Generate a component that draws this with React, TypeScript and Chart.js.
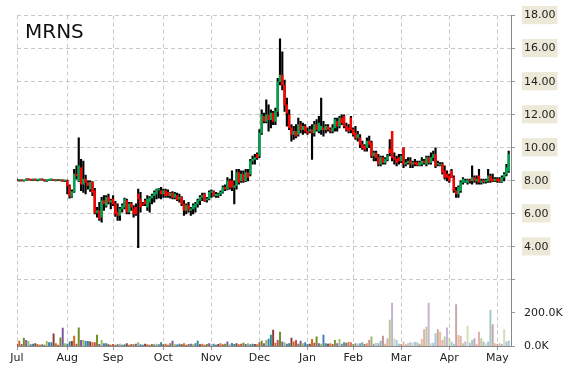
import React, { useEffect, useRef } from "react";
import { Chart, registerables } from "chart.js";

Chart.register(...registerables);

const tickerTitle = "MRNS";
const monthLabels = ["Jul", "Aug", "Sep", "Oct", "Nov", "Dec", "Jan", "Feb", "Mar", "Apr", "May"];
const monthTickIndex = [0, 22, 42, 64, 85, 106, 127, 147, 168, 189, 210];

const opens = [
  8.05, 8.02, 8.04, 8.00, 8.03, 8.10, 8.06, 8.05, 8.08, 8.04,
  8.06, 8.08, 8.05, 8.00, 8.04, 8.06, 8.07, 8.03, 8.05, 8.02,
  8.04, 7.98, 8.02, 7.70, 7.05, 7.35, 8.40, 8.00, 8.80, 7.80,
  8.10, 7.90, 7.50, 7.90, 7.40, 6.05, 6.20, 5.80, 6.80, 6.50,
  7.00, 6.70, 6.90, 6.60, 6.10, 5.90, 6.30, 6.40, 6.80, 6.10,
  6.60, 6.30, 6.40, 7.20, 6.90, 6.60, 6.80, 6.40, 6.70, 6.95,
  7.10, 7.20, 7.45, 7.40, 7.20, 7.40, 7.30, 7.10, 7.25, 7.00,
  7.10, 6.90, 7.00, 6.60, 6.20, 6.50, 6.20, 6.30, 6.40, 6.60,
  6.80, 7.00, 7.20, 6.85, 6.90, 7.30, 7.35, 7.10, 7.10, 7.20,
  7.30, 7.60, 7.50, 8.00, 8.00, 7.60, 7.70, 8.50, 8.00, 8.40,
  8.00, 8.50, 8.40, 9.20, 9.30, 9.60, 9.50, 10.90, 11.90, 11.60,
  12.00, 11.70, 12.10, 11.60, 12.20, 14.00, 14.40, 13.80, 12.60, 12.00,
  11.20, 10.80, 11.00, 10.80, 11.40, 11.10, 11.30, 11.00, 11.00, 11.10,
  10.90, 11.40, 11.00, 11.10, 11.20, 11.10, 11.30, 11.10, 11.00, 11.20,
  11.60, 11.30, 11.80, 11.90, 11.30, 11.20, 11.80, 11.10, 10.90, 10.60,
  10.60, 10.20, 10.10, 10.00, 10.40, 10.30, 9.50, 9.70, 9.40, 9.00,
  9.40, 9.10, 9.30, 9.90, 11.00, 9.40, 9.30, 9.40, 9.20, 10.00,
  9.00, 9.10, 9.20, 9.00, 9.10, 9.10, 8.95, 9.00, 9.20, 9.00,
  9.40, 9.10, 9.40, 9.60, 9.00, 9.00, 9.00, 8.60, 8.40, 8.30,
  8.60, 8.20, 7.40, 7.20, 7.40, 7.90, 8.00, 7.90, 8.05, 8.00,
  8.20, 8.00, 8.30, 7.90, 8.00, 7.95, 8.00, 8.30, 8.10, 8.00,
  8.10, 8.10, 7.95, 8.20, 8.40, 8.60,
];

const highs = [
  8.10, 8.06, 8.06, 8.05, 8.12, 8.12, 8.08, 8.10, 8.10, 8.08,
  8.10, 8.12, 8.08, 8.06, 8.08, 8.10, 8.09, 8.07, 8.08, 8.06,
  8.06, 8.04, 8.05, 7.75, 7.45, 8.70, 8.90, 10.60, 9.30, 9.20,
  8.35, 8.00, 8.00, 7.95, 7.55, 6.40, 6.70, 7.00, 7.10, 7.10,
  7.20, 6.90, 7.10, 6.75, 6.60, 6.40, 6.60, 6.95, 6.90, 6.70,
  6.70, 6.50, 6.60, 7.50, 7.30, 6.70, 6.90, 7.10, 7.05, 7.20,
  7.40, 7.50, 7.55, 7.60, 7.50, 7.50, 7.45, 7.30, 7.35, 7.30,
  7.25, 7.20, 7.05, 6.80, 6.60, 6.70, 6.40, 6.60, 6.70, 6.90,
  7.10, 7.25, 7.25, 7.00, 7.40, 7.45, 7.40, 7.30, 7.25, 7.40,
  7.70, 7.75, 8.20, 8.10, 8.60, 8.00, 8.70, 8.70, 8.60, 8.60,
  8.70, 8.70, 9.30, 9.50, 9.60, 9.70, 11.10, 12.30, 12.10, 12.90,
  12.60, 12.30, 12.20, 12.40, 14.20, 16.60, 15.80, 14.10, 13.00, 12.30,
  11.40, 11.30, 11.40, 11.80, 11.60, 11.50, 11.40, 11.20, 11.30, 11.40,
  11.60, 11.70, 11.90, 13.00, 11.60, 11.40, 11.40, 11.20, 11.40, 11.80,
  11.80, 11.90, 12.00, 12.00, 11.50, 11.40, 11.90, 11.20, 11.30, 11.00,
  10.80, 10.40, 10.20, 10.60, 10.70, 10.40, 9.80, 9.80, 9.60, 9.50,
  9.50, 9.40, 9.60, 10.50, 11.00, 9.70, 9.50, 9.60, 9.60, 10.00,
  9.30, 9.40, 9.40, 9.20, 9.30, 9.20, 9.20, 9.40, 9.30, 9.50,
  9.50, 9.70, 9.80, 10.00, 9.20, 9.10, 9.10, 8.90, 8.60, 8.40,
  8.70, 8.30, 7.60, 7.70, 8.00, 8.20, 8.10, 8.10, 8.10, 8.90,
  8.30, 8.30, 8.70, 8.10, 8.10, 8.10, 8.70, 8.40, 8.40, 8.20,
  8.20, 8.20, 8.30, 8.50, 9.00, 9.80,
];

const lows = [
  8.00, 7.98, 8.00, 7.98, 8.02, 8.04, 8.02, 8.03, 8.02, 8.00,
  8.04, 8.04, 7.98, 7.97, 8.02, 8.03, 8.02, 8.00, 8.01, 7.99,
  7.96, 7.95, 7.20, 6.95, 7.00, 7.30, 8.10, 7.95, 7.40, 7.30,
  7.20, 7.50, 7.35, 7.10, 6.00, 5.80, 5.60, 5.50, 6.20, 6.40,
  6.60, 6.30, 6.50, 5.85, 5.60, 5.60, 6.10, 6.30, 6.00, 6.00,
  6.20, 5.80, 5.90, 3.95, 6.10, 6.50, 6.50, 6.20, 6.10, 6.60,
  6.70, 6.90, 6.95, 6.90, 7.00, 7.00, 7.00, 6.95, 6.90, 6.90,
  6.80, 6.70, 6.50, 5.90, 6.00, 6.10, 5.90, 6.00, 6.10, 6.40,
  6.55, 6.80, 6.75, 6.70, 6.85, 7.00, 7.05, 7.00, 7.00, 7.10,
  7.25, 7.40, 7.45, 7.50, 7.40, 6.60, 7.50, 7.80, 7.90, 7.90,
  7.95, 8.00, 8.30, 9.00, 9.00, 9.30, 9.40, 10.80, 11.50, 11.50,
  11.00, 11.20, 11.40, 11.40, 11.90, 13.80, 13.50, 12.20, 11.30, 11.10,
  10.40, 10.50, 10.60, 10.70, 10.90, 10.80, 10.90, 10.80, 10.90, 9.30,
  10.70, 11.00, 10.90, 10.80, 10.70, 10.90, 11.00, 10.90, 10.90, 11.00,
  11.00, 11.20, 11.40, 11.20, 11.00, 10.90, 10.90, 10.70, 10.50, 10.40,
  10.00, 9.90, 9.80, 9.80, 10.00, 9.40, 9.20, 9.20, 8.90, 8.90,
  9.00, 9.00, 9.20, 9.50, 9.20, 9.00, 8.90, 9.00, 9.10, 8.80,
  8.90, 9.00, 8.80, 8.80, 8.90, 8.90, 8.90, 8.90, 9.00, 8.90,
  9.00, 9.00, 9.20, 8.80, 8.90, 8.90, 8.40, 8.10, 8.00, 7.90,
  8.20, 7.30, 7.00, 7.00, 7.30, 7.80, 7.90, 7.80, 7.85, 7.80,
  7.90, 7.80, 7.80, 7.80, 7.85, 7.85, 7.90, 7.90, 7.95, 7.95,
  7.90, 7.90, 7.90, 8.00, 8.30, 8.50,
];

const closes = [
  8.02, 8.04, 8.00, 8.03, 8.10, 8.06, 8.05, 8.08, 8.04, 8.06,
  8.08, 8.05, 8.00, 8.04, 8.06, 8.07, 8.03, 8.05, 8.02, 8.04,
  7.98, 8.02, 7.70, 7.05, 7.35, 8.40, 8.30, 8.90, 7.80, 8.10,
  7.90, 7.70, 7.90, 7.30, 6.05, 6.20, 5.70, 6.80, 6.60, 7.00,
  6.70, 6.80, 6.60, 6.00, 5.90, 6.30, 6.50, 6.90, 6.10, 6.60,
  6.40, 6.00, 6.00, 6.90, 6.40, 6.55, 6.60, 6.90, 6.95, 7.10,
  7.30, 7.45, 7.50, 7.20, 7.40, 7.10, 7.10, 7.25, 7.00, 7.20,
  6.85, 7.00, 6.60, 6.20, 6.50, 6.20, 6.30, 6.50, 6.60, 6.80,
  7.00, 7.10, 6.80, 6.90, 7.30, 7.35, 7.10, 7.20, 7.20, 7.30,
  7.60, 7.50, 8.00, 7.60, 7.60, 7.70, 8.50, 7.90, 8.40, 8.00,
  8.50, 8.20, 9.20, 9.30, 9.40, 9.40, 10.90, 12.00, 11.60, 12.00,
  11.70, 12.10, 11.60, 12.20, 14.00, 14.40, 13.80, 12.60, 12.10, 11.20,
  10.80, 11.00, 10.70, 11.40, 11.10, 11.30, 11.00, 10.90, 11.10, 10.90,
  11.40, 11.10, 11.50, 11.30, 11.10, 11.30, 11.10, 11.00, 11.20, 11.70,
  11.30, 11.80, 11.50, 11.30, 11.10, 11.00, 11.10, 10.80, 10.60, 10.80,
  10.20, 10.00, 9.90, 10.40, 10.20, 9.50, 9.70, 9.40, 9.00, 9.40,
  9.10, 9.30, 9.50, 9.70, 9.40, 9.30, 9.10, 9.20, 9.50, 9.00,
  9.10, 9.20, 9.00, 9.10, 9.00, 8.95, 9.10, 9.20, 9.10, 9.40,
  9.10, 9.40, 9.60, 8.90, 9.05, 9.00, 8.50, 8.20, 8.20, 8.00,
  8.20, 7.40, 7.20, 7.60, 7.90, 8.10, 8.00, 8.05, 8.00, 8.20,
  8.00, 8.10, 7.90, 8.00, 7.95, 8.00, 8.30, 8.00, 8.00, 8.10,
  8.00, 7.95, 8.20, 8.40, 8.80, 9.60,
];

// volume in thousands of shares
const volumesK = [
  12, 30, 10, 48, 35, 28, 8, 12, 15, 10, 6, 8, 5, 28, 20, 20, 73, 15, 6, 50, 109, 15,
  12, 25, 28, 60, 12, 110, 35, 35, 28, 28, 25, 20, 20, 66, 10, 35, 15, 15, 8, 6, 10,
  5, 8, 12, 6, 9, 14, 6, 10, 8, 12, 20, 9, 6, 12, 8, 5, 10, 7, 12, 9, 20,
  8, 12, 6, 15, 30, 10, 7, 12, 9, 14, 6, 10, 12, 8, 15, 30, 9, 12, 6, 10, 14, 8, 12,
  6, 10, 14, 8, 12, 25, 9, 16, 10, 14, 8, 12, 18, 10, 15, 8, 12, 10, 9,
  20, 30, 15, 35, 42, 66, 97, 18, 35, 84, 25, 20, 12, 15, 48, 25, 35, 12, 30, 15, 20, 10,
  12, 40, 18, 55, 15, 12, 66, 15, 12, 15, 10, 35, 15, 40, 12, 20, 18, 22, 20, 10,
  15, 12, 14, 20, 10, 15, 35, 55, 12, 18, 14, 30, 60, 12, 45, 157, 260, 45, 35,
  12, 10, 25, 8, 14, 20, 18, 22, 20, 12, 40, 100, 115, 260, 14, 18, 75, 100, 85, 35, 55, 110,
  45, 25, 12, 250, 65, 60, 14, 25, 120, 18, 35, 45, 12, 85, 45, 25, 14, 25, 218, 130, 15,
  12, 15, 10, 100, 25, 30,
];

const priceTickLabels: Record<string, string> = { "-2": "0.0K", "0": "200.0K", "2": "" };

const volumePalette = [
  [139, 58, 58], [107, 142, 35], [63, 127, 191], [210, 105, 30],
  [126, 87, 168], [46, 139, 139], [192, 80, 77], [155, 187, 89],
];

const FONT = "DejaVu Sans";

function volumeColor(i: number) {
  const c = volumePalette[(i * 3) % volumePalette.length];
  let a = 1;
  if (i > 135) a = Math.max(0.45, 1 - (i - 135) * 0.018);
  return `rgba(${c[0]},${c[1]},${c[2]},${a})`;
}

const titlePlugin = {
  id: "tickerTitle",
  afterDraw(chart: any) {
    const ctx = chart.ctx;
    ctx.save();
    ctx.font = `20px "${FONT}"`;
    ctx.fillStyle = "#111";
    ctx.textBaseline = "alphabetic";
    ctx.textAlign = "left";
    ctx.fillText(tickerTitle, 25, 38);
    ctx.restore();
  },
};

export default function App() {
  const ref = useRef<HTMLCanvasElement | null>(null);

  useEffect(() => {
    if (!ref.current) return;
    const bodyData = opens.map((o, i) => ({ x: i, y: [o, closes[i]] }));
    const wickData = lows.map((l, i) => ({ x: i, y: [l, highs[i]] }));
    const volData = volumesK.map((v, i) => ({ x: i, y: v }));
    const bodyColors = opens.map((o, i) => (closes[i] >= o ? "#00A651" : "#FF0000"));
    const volColors = volumesK.map((_, i) => volumeColor(i));

    const chart = new Chart(ref.current, {
      type: "bar",
      data: {
        datasets: [
          {
            label: "body",
            data: bodyData as any,
            backgroundColor: bodyColors,
            barThickness: 1.7,
            minBarLength: 1,
            grouped: false,
            order: 1,
            xAxisID: "x",
            yAxisID: "y",
          },
          {
            label: "wick",
            data: wickData as any,
            backgroundColor: "#000000",
            barThickness: 1.5,
            grouped: false,
            order: 2,
            xAxisID: "x",
            yAxisID: "y",
          },
          {
            label: "volume",
            data: volData as any,
            backgroundColor: volColors,
            barThickness: 1.3,
            grouped: false,
            order: 3,
            xAxisID: "x",
            yAxisID: "yv",
          },
        ],
      },
      options: {
        responsive: false,
        animation: false,
        devicePixelRatio: 1,
        layout: { padding: { left: 17, top: 14, right: 0, bottom: 0 } },
        plugins: { legend: { display: false }, tooltip: { enabled: false }, title: { display: false } },
        scales: {
          x: {
            type: "linear",
            min: 0,
            max: 216,
            offset: false,
            afterBuildTicks: (s: any) => {
              s.ticks = monthTickIndex.map((v) => ({ value: v }));
            },
            afterFit: (s: any) => {
              s.height = 24;
            },
            ticks: {
              autoSkip: false,
              maxRotation: 0,
              padding: 2,
              color: "#222",
              font: { family: FONT, size: 11 },
              callback: (_v: any, idx: number) => monthLabels[idx] ?? "",
            },
            grid: {
              offset: false,
              color: "#c8c8c8",
              lineWidth: 1,
              drawTicks: true,
              tickLength: 4,
              tickColor: "#999",
            },
            border: { display: true, color: "#888", width: 1, dash: [4, 3] },
          },
          y: {
            type: "linear",
            position: "right",
            min: -2,
            max: 18,
            afterFit: (s: any) => {
              s.width = 59;
            },
            ticks: {
              stepSize: 2,
              padding: 9,
              color: "#222",
              font: { family: FONT, size: 11 },
              showLabelBackdrop: true,
              backdropColor: (ctx: any) =>
                ctx.tick && ctx.tick.value >= 4 ? "#ECE9D8" : "rgba(0,0,0,0)",
              backdropPadding: { top: 3, bottom: 2, left: 2, right: 2 },
              callback: (v: any) => {
                const key = String(v);
                if (key in priceTickLabels) return priceTickLabels[key];
                return Number(v).toFixed(2);
              },
            },
            grid: {
              color: (ctx: any) => (ctx.tick && ctx.tick.value >= 2 ? "#c8c8c8" : "rgba(0,0,0,0)"),
              lineWidth: 1,
              drawTicks: true,
              tickLength: 4,
              tickColor: "#999",
            },
            border: { display: true, color: "#888", width: 1, dash: [4, 3] },
          },
          yv: {
            type: "linear",
            display: false,
            min: 0,
            max: 2000,
          },
        },
      } as any,
      plugins: [titlePlugin],
    });
    return () => chart.destroy();
  }, []);

  return (
    <div style={{ position: "absolute", left: 0, top: 0, width: 570, height: 370, background: "#fff" }}>
      <canvas ref={ref} width={570} height={370} />
    </div>
  );
}
